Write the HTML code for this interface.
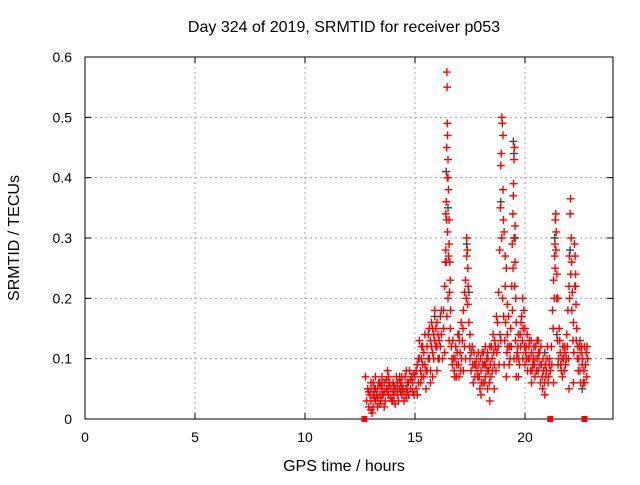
<!DOCTYPE html>
<html><head><meta charset="utf-8"><style>
body{margin:0;background:#fff;font-family:"Liberation Sans",sans-serif}
svg text{font-family:"Liberation Sans",sans-serif;font-size:14px;fill:#000}
svg text.ttl{font-size:16px}
</style></head><body>
<svg id="chart" width="640" height="480" xmlns="http://www.w3.org/2000/svg">
<rect width="640" height="480" fill="#fff"/>
<text class="ttl" x="344" y="32" text-anchor="middle">Day 324 of 2019, SRMTID for receiver p053</text>
<text class="ttl" x="344" y="471" text-anchor="middle">GPS time / hours</text>
<text class="ttl" x="19" y="238" text-anchor="middle" transform="rotate(-90 19 238)">SRMTID / TECUs</text>
<g id="grid"></g>
<g id="axes"></g>
<g id="marks"></g>
</svg>
<script>
const xTicks=[0,5,10,15,20];
const yTicks=[0,0.1,0.2,0.3,0.4,0.5,0.6];
const yTickLabels=["0","0.1","0.2","0.3","0.4","0.5","0.6"];
const redPts=[[12.8,.03],[12.85,.05],[12.9,.02],[12.95,.04],[13.0,.06],[13.0,.03],[13.05,.01],[13.1,.04],[13.1,.02],[13.15,.05],[13.2,.03],[13.2,.07],[13.25,.04],[13.3,.05],[13.3,.02],[13.35,.06],[13.4,.04],[13.45,.03],[13.5,.05],[13.5,.07],[13.55,.04],[13.6,.06],[13.65,.03],[13.7,.05],[13.75,.08],[13.8,.04],[13.85,.06],[13.9,.05],[13.95,.03],[14.0,.06],[14.05,.04],[14.1,.05],[14.15,.07],[14.2,.04],[14.25,.03],[14.3,.05],[14.35,.06],[14.4,.04],[14.45,.05],[14.5,.03],[14.55,.07],[14.6,.05],[14.65,.06],[14.7,.04],[14.75,.08],[14.8,.05],[14.85,.07],[14.9,.06],[14.95,.04],[13.0,.05],[13.4,.06],[13.8,.07],[14.2,.06],[14.6,.08],[12.75,.07],[13.6,.02],[14.0,.03],[14.4,.07],
[15.0,.07],[15.05,.05],[15.1,.09],[15.15,.06],[15.2,.10],[15.25,.08],[15.3,.12],[15.3,.07],[15.35,.09],[15.4,.11],[15.45,.14],[15.5,.08],[15.55,.12],[15.6,.10],[15.65,.15],[15.7,.13],[15.75,.16],[15.8,.11],[15.85,.14],[15.9,.18],[15.95,.12],[16.0,.16],[16.05,.10],[16.1,.13],[16.15,.17],[15.2,.13],[15.5,.05],[15.8,.07],[15.1,.04],[16.0,.08],
[16.35,.22],[16.38,.26],[16.4,.34],[16.42,.36],[16.44,.45],[16.45,.575],[16.46,.55],[16.47,.49],[16.48,.47],[16.5,.43],[16.5,.40],[16.52,.38],[16.55,.33],[16.55,.29],[16.58,.26],[16.6,.23],[16.4,.28],[16.48,.31],[16.5,.2],[16.45,.17],[16.6,.15],[16.65,.12],[16.7,.09],[16.75,.1],[16.8,.07],[16.3,.15],[16.35,.11],[16.55,.13],
[16.85,.12],[16.9,.09],[16.95,.14],[17.0,.07],[17.05,.11],[17.1,.16],[17.15,.13],[17.2,.18],[17.25,.21],[17.3,.23],[17.35,.27],[17.35,.30],[17.38,.28],[17.4,.25],[17.4,.19],[17.45,.16],[17.5,.14],[17.5,.10],[17.55,.08],[17.6,.12],[17.65,.06],[17.7,.09],[17.2,.08],[17.3,.10],
[17.8,.10],[17.85,.07],[17.9,.09],[17.95,.05],[18.0,.08],[18.05,.11],[18.1,.06],[18.15,.09],[18.2,.07],[18.25,.10],[18.3,.05],[18.35,.08],[18.4,.12],[18.45,.07],[18.5,.10],[18.55,.14],[18.6,.09],[18.65,.12],[18.7,.17],[18.0,.04],[18.2,.12],[18.4,.03],[18.6,.05],
[18.75,.16],[18.8,.21],[18.85,.28],[18.88,.35],[18.9,.42],[18.92,.44],[18.95,.5],[18.97,.49],[19.0,.47],[19.0,.38],[19.02,.33],[19.05,.31],[19.1,.27],[19.1,.22],[19.15,.25],[19.2,.19],[19.2,.14],[19.25,.17],[19.3,.12],[18.9,.13],[19.05,.09],[19.15,.07],
[19.35,.15],[19.4,.22],[19.42,.29],[19.45,.34],[19.47,.37],[19.48,.39],[19.5,.43],[19.52,.45],[19.55,.32],[19.55,.26],[19.58,.2],[19.6,.16],[19.65,.11],[19.7,.14],[19.75,.09],[19.8,.12],[19.5,.1],[19.6,.07],
[19.85,.17],[19.9,.2],[19.95,.18],[20.0,.15],[20.05,.12],[20.1,.14],[20.15,.1],[20.2,.13],[20.25,.08],[20.3,.11],[20.35,.09],[20.4,.12],[20.45,.07],[20.5,.10],[20.55,.13],[20.6,.08],[20.65,.11],[20.7,.06],[20.75,.09],[20.8,.05],[20.85,.08],[20.9,.04],[20.95,.07],[21.0,.1],[21.05,.06],[21.1,.09],[21.15,.08],[20.0,.09],[20.3,.06],[20.6,.13],[19.9,.1],
[21.2,.12],[21.25,.18],[21.3,.23],[21.35,.27],[21.36,.29],[21.38,.33],[21.4,.34],[21.42,.31],[21.45,.24],[21.5,.2],[21.55,.15],[21.6,.11],[21.65,.08],[21.3,.06],[21.5,.09],
[21.7,.07],[21.75,.1],[21.8,.12],[21.85,.09],[21.9,.14],[21.95,.18],[22.0,.22],[22.02,.27],[22.05,.34],[22.07,.365],[22.1,.3],[22.12,.26],[22.15,.21],[22.2,.16],[22.25,.29],[22.28,.27],[22.3,.24],[22.32,.19],[22.35,.15],[22.4,.12],[22.45,.1],[22.5,.08],[22.55,.11],[22.6,.09],[22.65,.06],[22.7,.12],[22.75,.09],[22.8,.07],[22.85,.1],[22.0,.05],[22.2,.06]];
const extraRedPts=[[12.9,.045],[13.0,.015],[13.1,.06],[13.2,.05],[13.3,.035],[13.4,.025],[13.5,.04],[13.6,.045],[13.7,.065],[13.8,.055],[13.9,.035],[14.0,.045],[14.1,.025],[14.2,.05],[14.3,.065],[14.4,.055],[14.5,.045],[14.6,.035],[14.7,.06],[14.8,.065],[14.9,.045],[14.95,.075],[13.15,.035],[13.45,.055],[13.75,.045],[14.05,.055],[14.35,.045],[14.65,.045],
[15.05,.08],[15.15,.1],[15.25,.06],[15.35,.12],[15.45,.09],[15.55,.08],[15.6,.14],[15.65,.1],[15.7,.08],[15.75,.12],[15.8,.15],[15.85,.1],[15.9,.13],[15.95,.15],[16.0,.12],[16.05,.14],[16.1,.1],[16.15,.12],[16.2,.14],[16.25,.1],[16.2,.18],[15.4,.07],[15.7,.06],
[16.42,.26],[16.44,.33],[16.47,.4],[16.52,.27],[16.57,.21],[16.62,.18],[16.68,.1],[16.72,.13],[16.78,.08],[16.82,.1],[16.88,.07],[16.92,.11],[16.98,.09],[17.02,.13],[17.08,.08],[17.12,.1],[17.18,.15],[17.25,.12],[17.33,.2],[17.42,.22],[17.48,.12],[17.55,.11],[17.62,.09],[17.68,.11],[17.72,.07],[17.76,.09],
[17.82,.08],[17.88,.11],[17.92,.07],[17.98,.1],[18.02,.06],[18.08,.09],[18.12,.11],[18.18,.06],[18.22,.09],[18.28,.08],[18.32,.1],[18.38,.06],[18.42,.09],[18.48,.12],[18.52,.08],[18.58,.11],[18.62,.13],[18.68,.08],[18.72,.11],[18.78,.12],[18.82,.09],[18.86,.14],[18.94,.3],[18.98,.2],[19.03,.17],[19.08,.13],[19.12,.16],[19.18,.11],[19.22,.12],[19.28,.09],[19.32,.1],[19.38,.12],[19.43,.18],[19.46,.25],[19.5,.3],[19.53,.22],[19.57,.13],[19.62,.1],[19.68,.12],[19.72,.1],[19.78,.14],[19.82,.16],
[19.88,.13],[19.92,.15],[19.97,.12],[20.02,.11],[20.07,.1],[20.12,.08],[20.18,.12],[20.22,.1],[20.28,.13],[20.32,.08],[20.38,.1],[20.42,.09],[20.48,.12],[20.52,.08],[20.58,.1],[20.62,.11],[20.68,.09],[20.72,.12],[20.78,.07],[20.82,.1],[20.88,.06],[20.92,.09],[20.98,.08],[21.02,.12],[21.08,.07],[21.12,.1],
[21.22,.09],[21.28,.15],[21.33,.2],[21.37,.25],[21.41,.28],[21.44,.2],[21.48,.13],[21.52,.1],[21.58,.13],[21.62,.09],[21.68,.1],[21.72,.12],[21.78,.08],[21.82,.11],[21.88,.1],[21.92,.12],[21.97,.1],[22.03,.2],[22.08,.24],[22.13,.18],[22.18,.13],[22.22,.11],[22.27,.22],[22.33,.13],[22.38,.1],[22.42,.08],[22.48,.12],[22.52,.06],[22.58,.12],[22.62,.1],[22.68,.08],[22.72,.06],[22.78,.11],[22.82,.12]];
const grayPts=[[13.5,.06],[14.3,.07],[15.3,.1],[15.9,.17],[16.42,.41],[16.5,.35],[17.35,.29],[17.45,.21],[18.3,.11],[18.9,.36],[19.47,.46],[19.5,.44],[19.55,.3],[19.7,.07],[20.4,.1],[20.9,.11],[21.35,.3],[21.45,.14],[22.05,.28],[22.3,.22],[22.5,.13],[22.6,.05],[17.0,.14],[16.3,.18],[15.6,.14]];
const squarePts=[[12.7,0],[21.15,0],[22.7,0]];
const L=85,R=613,T=57,B=419,XMAX=24,YMAX=0.6;
const xs=t=>L+(R-L)*t/XMAX, ys=v=>B-(B-T)*v/YMAX;
const NS="http://www.w3.org/2000/svg";
function mk(tag,attrs,parent){const e=document.createElementNS(NS,tag);for(const k in attrs)e.setAttribute(k,attrs[k]);parent.appendChild(e);return e;}
const grid=document.getElementById('grid'),axes=document.getElementById('axes'),marks=document.getElementById('marks');
xTicks.forEach(t=>{const x=xs(t);
 if(t>0){const g=mk('line',{x1:x,y1:T,x2:x,y2:B,stroke:'#a0a0a0','stroke-dasharray':'2,3'},grid);
 
 }
 mk('line',{x1:x,y1:B,x2:x,y2:B-6,stroke:'#000'},axes);mk('line',{x1:x,y1:T,x2:x,y2:T+6,stroke:'#000'},axes);
 const tx=mk('text',{x:x,y:B+23,'text-anchor':'middle'},axes);tx.textContent=t;
 
 });
yTicks.forEach((v,i)=>{const y=ys(v);
 if(v>0&&v<YMAX){const g=mk('line',{x1:L,y1:y,x2:R,y2:y,stroke:'#a0a0a0','stroke-dasharray':'2,3'},grid);
 
 }
 mk('line',{x1:L,y1:y,x2:L+6,y2:y,stroke:'#000'},axes);mk('line',{x1:R,y1:y,x2:R-6,y2:y,stroke:'#000'},axes);
 const tx=mk('text',{x:L-13,y:y+5,'text-anchor':'end'},axes);tx.textContent=yTickLabels[i];
 
 });
const frame=mk('rect',{x:L,y:T,width:R-L,height:B-T,fill:'none',stroke:'#000'},axes);


function plus(p,color,name){const x=xs(p[0]),y=ys(p[1]);
 const e=mk('path',{d:`M${x-4} ${y}H${x+4}M${x} ${y-4}V${y+4}`,stroke:color,'stroke-width':1.4,fill:'none'},marks);
 
 }
grayPts.forEach(p=>plus(p,'#444','gray-point'));
redPts.forEach(p=>plus(p,'#ff0000','red-point'));
extraRedPts.forEach(p=>plus(p,'#ff0000','red-point'));
squarePts.forEach(p=>{const s=mk('rect',{x:xs(p[0])-3,y:ys(p[1])-3,width:6,height:6,fill:'#ff0000'},marks);
 
 });
</script>
</body></html>
